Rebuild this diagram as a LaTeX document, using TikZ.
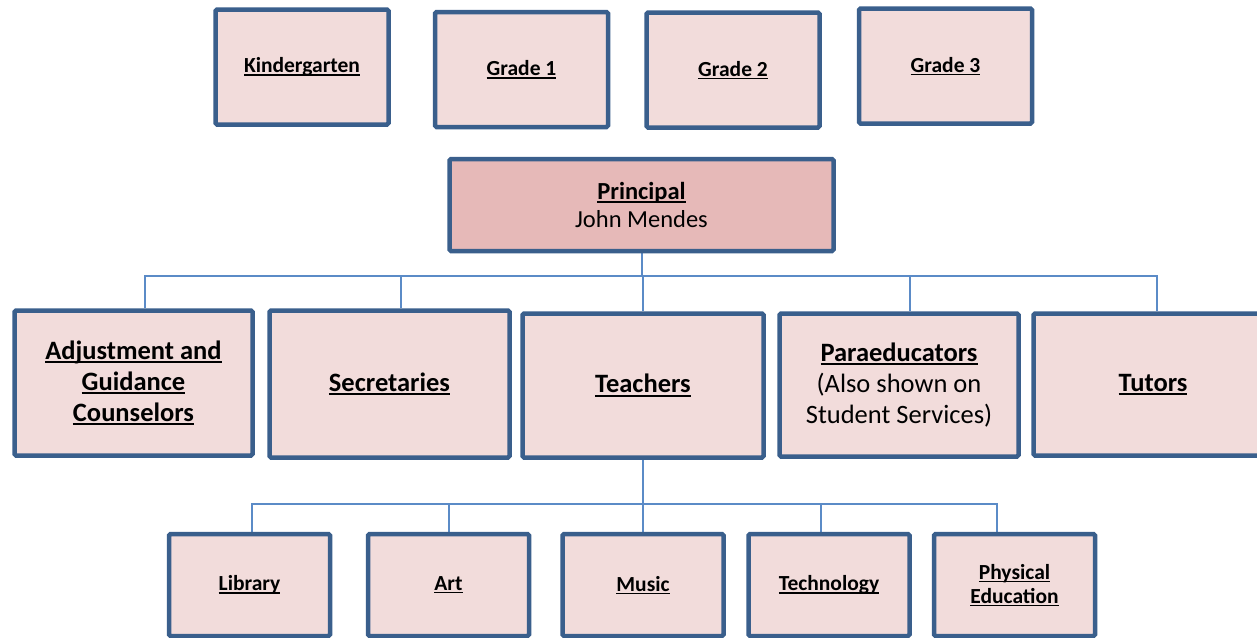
\documentclass[tikz,border=0pt]{standalone}
\usepackage{fontspec}
\setmainfont{Carlito}
\pgfdeclarelayer{bg}
\pgfsetlayers{bg,main}

\definecolor{edge}{HTML}{3A5F8C}
\definecolor{paper}{HTML}{F2DCDB}
\definecolor{chief}{HTML}{E6B9B8}
\definecolor{wire}{HTML}{5B8BC7}

% bold heading with a fixed-position underline
\newcommand\hd[1]{\setbox0\hbox{\bfseries #1}\rlap{\rule[-0.14em]{\wd0}{0.07em}}\box0}

\begin{document}
\begin{tikzpicture}[x=1pt,y=-1pt,
  orgbox/.style={draw=edge, line width=4.5pt, fill=paper, rounded corners=1.5pt,
    inner sep=0pt, align=center, text=black},
  topbox/.style={orgbox, minimum width=173pt, minimum height=115pt,
    font=\fontsize{21.5}{25}\selectfont},
  midbox/.style={orgbox, minimum width=240pt, minimum height=144pt,
    font=\fontsize{26.5}{31}\selectfont},
  lowbox/.style={orgbox, minimum width=161pt, minimum height=102pt,
    font=\fontsize{21.5}{24}\selectfont},
  link/.style={draw=wire, line width=2pt}]

\useasboundingbox (0,0) rectangle (1257,637);

% grade levels
\node[topbox] (kg) at (302,67)    {\hd{Kindergarten}};
\node[topbox] (g1) at (521.5,69.5) {\hd{Grade 1}};
\node[topbox] (g2) at (733,70)    {\hd{Grade 2}};
\node[topbox] (g3) at (945.5,66)  {\hd{Grade 3}};

% principal
\node[orgbox, fill=chief, minimum width=384pt, minimum height=92pt,
  font=\fontsize{24.5}{28}\selectfont] (prin) at (641.5,205)
  {\hd{Principal}\\John Mendes};

% staff
\node[midbox, minimum width=238pt, minimum height=145pt] (adj) at (133.5,383)
  {\hd{Adjustment and}\\\hd{Guidance}\\\hd{Counselors}};
\node[midbox, minimum width=240pt, minimum height=147pt] (sec) at (389.5,384)
  {\hd{Secretaries}};
\node[midbox, minimum width=241pt] (tea) at (643,385.5) {\hd{Teachers}};
\node[midbox, minimum width=239pt, minimum height=143pt] (par) at (899,385)
  {\hd{Paraeducators}\\(Also shown on\\Student Services)};
\node[midbox, minimum width=239pt, minimum height=142pt] (tut) at (1153,384.5)
  {\hd{Tutors}};

% specialist teachers
\node[lowbox] (lib) at (249.5,585) {\hd{Library}};
\node[lowbox] (art) at (448.5,585) {\hd{Art}};
\node[lowbox] (mus) at (643,585)   {\hd{Music}};
\node[lowbox] (tec) at (829,585)   {\hd{Technology}};
\node[lowbox] (phy) at (1014.5,585) {\hd{Physical}\\\hd{Education}};

\begin{pgfonlayer}{bg}
  \fill[white] (0,0) rectangle (1257,637);
  % principal to staff
  \draw[link] (prin.south) -- ++(0,23) coordinate (bus);
  \draw[link] ([xshift=11.5pt]adj.north) |- (bus) -| ([xshift=4pt]tut.north);
  \draw[link] ([xshift=11.5pt]sec.north) -- ([xshift=11.5pt]sec.north |- bus);
  \draw[link] (tea.north) -- (tea.north |- bus);
  \draw[link] ([xshift=11pt]par.north) -- ([xshift=11pt]par.north |- bus);
  % teachers to specialists
  \draw[link] (tea.south) -- ++(0,44) coordinate (tbus);
  \draw[link] ([xshift=2.5pt]lib.north) |- (tbus) -| ([xshift=-17.5pt]phy.north);
  \draw[link] (art.north) -- (art.north |- tbus);
  \draw[link] (mus.north) -- (mus.north |- tbus);
  \draw[link] ([xshift=-8pt]tec.north) -- ([xshift=-8pt]tec.north |- tbus);
\end{pgfonlayer}
\end{tikzpicture}
\end{document}
